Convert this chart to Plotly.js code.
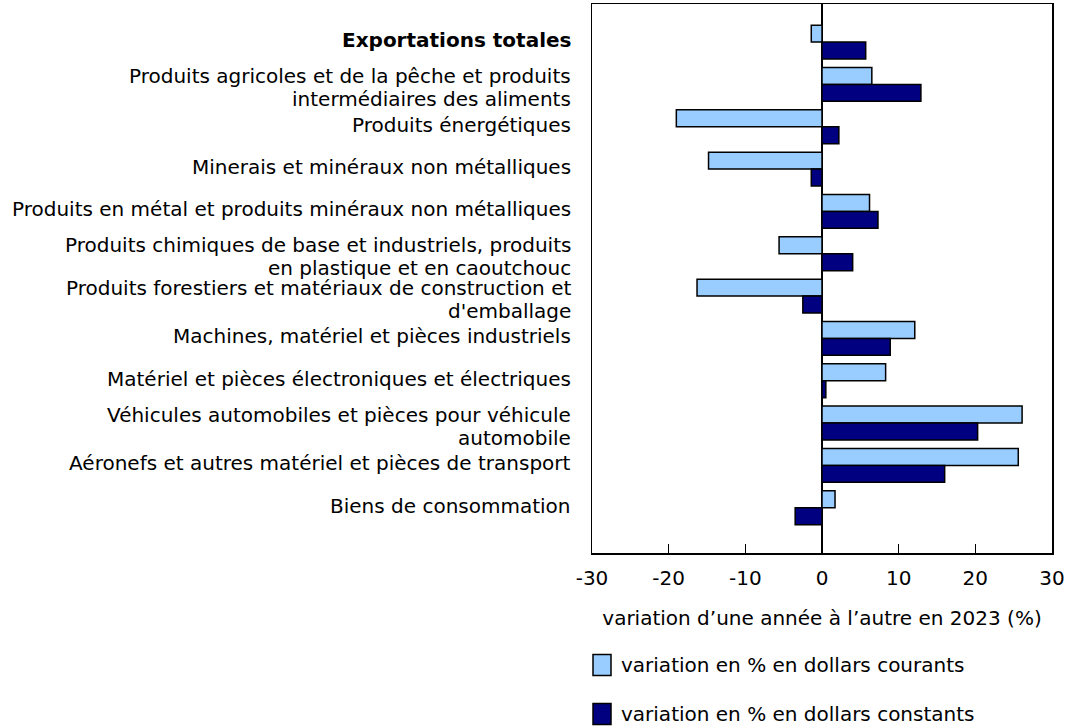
<!DOCTYPE html>
<html>
<head>
<meta charset="utf-8">
<script src="https://cdn.plot.ly/plotly-3.0.1.min.js"></script>
<style>html,body{margin:0;padding:0;background:#fff;}#chart{width:1066px;height:728px;}</style>
</head>
<body>
<div id="chart"></div>
<script>
const categories = [
  "<b>Exportations totales</b>",
  "Produits agricoles et de la pêche et produits<br>intermédiaires des aliments",
  "Produits énergétiques",
  "Minerais et minéraux non métalliques",
  "Produits en métal et produits minéraux non métalliques",
  "Produits chimiques de base et industriels, produits<br>en plastique et en caoutchouc",
  "Produits forestiers et matériaux de construction et<br>d'emballage",
  "Machines, matériel et pièces industriels",
  "Matériel et pièces électroniques et électriques",
  "Véhicules automobiles et pièces pour véhicule<br>automobile",
  "Aéronefs et autres matériel et pièces de transport",
  "Biens de consommation"
];
const currentDollars = [-1.4, 6.5, -19.0, -14.8, 6.2, -5.6, -16.3, 12.1, 8.3, 26.1, 25.6, 1.7];
const constantDollars = [5.7, 12.9, 2.2, -1.4, 7.3, 4.0, -2.5, 8.9, 0.5, 20.3, 16.0, -3.5];
const seriesNames = ["variation en % en dollars courants", "variation en % en dollars constants"];
const seriesColors = ["#99CCFF", "#000080"];
const xTickValues = [-30, -20, -10, 0, 10, 20, 30];
const xTickText = ["-30", "-20", "-10", "0", "10", "20", "30"];

const font = {family: "Verdana, 'DejaVu Sans', sans-serif", size: 20, color: "#000"};

const W = 1066, H = 728;
const M = {l: 592, r: 14, t: 4, b: 175};
const plotW = W - M.l - M.r, plotH = H - M.t - M.b;
const px2x = function (px) { return (px - M.l) / plotW; };
const py2y = function (py) { return (H - M.b - py) / plotH; };

const traces = [
  {type: "bar", orientation: "h", name: seriesNames[0], y: categories, x: currentDollars,
   marker: {color: seriesColors[0], line: {color: "#000", width: 1.5}}, showlegend: false},
  {type: "bar", orientation: "h", name: seriesNames[1], y: categories, x: constantDollars,
   marker: {color: seriesColors[1], line: {color: "#000", width: 1.5}}, showlegend: false}
];

// Category labels as annotations (tighter line spacing than tick labels allow)
const lineStep = 23;
const annotations = [];
categories.forEach(function (cat) {
  const lines = cat.split("<br>");
  if (lines.length === 1) {
    annotations.push({text: lines[0], x: -0.041, xref: "paper", xanchor: "right",
      y: cat, yref: "y", yanchor: "middle", yshift: 2, showarrow: false, font: font});
  } else {
    lines.forEach(function (ln, i) {
      annotations.push({text: ln, x: -0.041, xref: "paper", xanchor: "right",
        y: cat, yref: "y", yanchor: "middle", yshift: -3 + lineStep / 2 - i * lineStep,
        showarrow: false, font: font});
    });
  }
});

// Legend (drawn as keys + text, below the axis title)
const shapes = [];
const legendRows = [665, 714];
seriesNames.forEach(function (name, i) {
  const cy = legendRows[i];
  shapes.push({type: "rect", xref: "paper", yref: "paper",
    x0: px2x(593), x1: px2x(611), y0: py2y(cy - 10.5), y1: py2y(cy + 10.5),
    fillcolor: seriesColors[i], line: {color: "#000", width: 1.5}});
  annotations.push({text: name, xref: "paper", yref: "paper", x: px2x(619), xanchor: "left",
    y: py2y(cy), yanchor: "middle", showarrow: false, font: font});
});

const layout = {
  width: W, height: H,
  font: font,
  paper_bgcolor: "#fff", plot_bgcolor: "#fff",
  margin: M,
  barmode: "group", bargap: 0.2, bargroupgap: 0,
  showlegend: false,
  annotations: annotations,
  shapes: shapes,
  xaxis: {range: [-30, 30], tickvals: xTickValues, ticktext: xTickText, ticks: "inside", ticklen: 9, tickwidth: 1.5, tickcolor: "#000",
          showline: true, mirror: true, linecolor: "#000", linewidth: 1.5,
          showgrid: false, zeroline: true, zerolinecolor: "#000", zerolinewidth: 1.5,
          ticklabelstandoff: 6,
          title: {text: "variation d’une année à l’autre en 2023 (%)", font: font, standoff: 22}},
  yaxis: {type: "category", categoryorder: "array", categoryarray: categories,
          range: [12.07, -0.9], showline: true, mirror: true, linecolor: "#000", linewidth: 1.5,
          showgrid: false, ticks: "", showticklabels: false, automargin: false}
};

Plotly.newPlot("chart", traces, layout, {displayModeBar: false, staticPlot: true});
</script>
</body>
</html>
